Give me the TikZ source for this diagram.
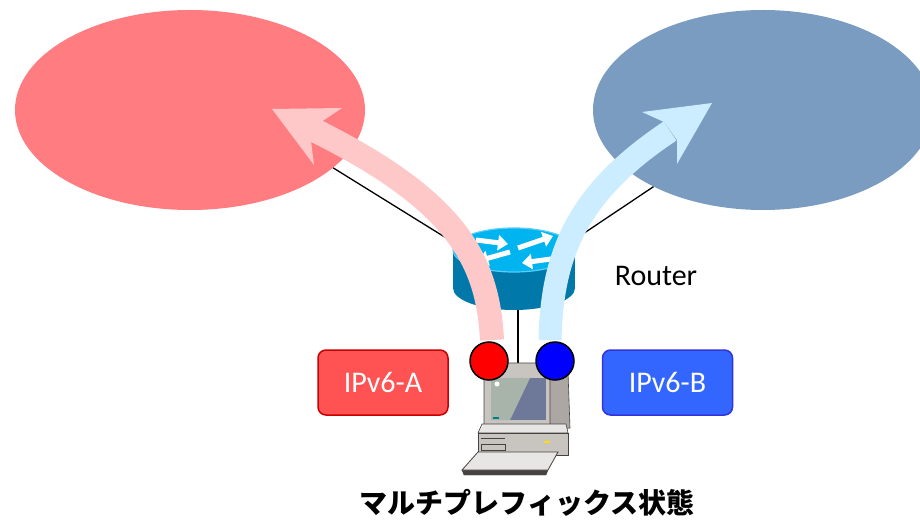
\documentclass[tikz,border=0pt]{standalone}
\usepackage{fontspec}
\usetikzlibrary{shapes.geometric,arrows.meta}
\newfontfamily\carlito{Carlito}
\newfontfamily\cjk{Noto Sans CJK JP}

\definecolor{netred}{RGB}{255,124,128}
\definecolor{netblue}{RGB}{122,156,192}
\definecolor{flowred}{RGB}{255,200,200}
\definecolor{flowblue}{RGB}{204,236,255}
\definecolor{routertop}{RGB}{0,180,240}
\definecolor{routerrim}{RGB}{90,205,248}
\definecolor{routerside}{RGB}{0,121,170}
\definecolor{tagred}{RGB}{255,82,82}
\definecolor{tagredline}{RGB}{200,0,0}
\definecolor{tagblue}{RGB}{51,102,255}
\definecolor{tagblueline}{RGB}{51,51,220}
\definecolor{pcbody}{RGB}{200,196,192}
\definecolor{pcdark}{RGB}{172,167,163}
\definecolor{pcedge}{RGB}{70,66,64}
\definecolor{pclight}{RGB}{232,230,228}
\definecolor{screen}{RGB}{110,120,152}
\definecolor{screenlight}{RGB}{168,180,170}

\begin{document}
\begin{tikzpicture}[x=1pt,y=-1pt,
  net/.style={ellipse,inner sep=0pt,draw=none},
  link/.style={draw=black,line width=1.3pt},
  port/.style={circle,minimum size=38pt,inner sep=0pt,draw=black,line width=1.5pt},
  tag/.style={rounded corners=8pt,minimum width=130pt,minimum height=65pt,inner sep=0pt,
              line width=1.5pt,text=white,font=\carlito\fontsize{30}{36}\selectfont},
  rarrow/.style={white,line width=5pt,-{Triangle[width=15pt,length=10pt]}}]
\useasboundingbox (0,0) rectangle (920,521);
\clip (0,0) rectangle (920,521);
\fill[white] (0,0) rectangle (920,521);

% the two networks
\node[net,fill=netred,minimum width=350pt,minimum height=200pt] (rednet) at (190,110) {};
\node[net,fill=netblue,minimum width=340pt,minimum height=200pt] (bluenet) at (763,110) {};

% links into the router
\coordinate (router) at (514,280);
\draw[link] (rednet.-22) -- (router);
\draw[link] (bluenet.215) -- (router);

% router body
\fill[routerside] (453,250) rectangle (575,288);
\fill[routerside] (514,288) ellipse [x radius=61, y radius=22];
\node[ellipse,fill=routertop,draw=routerrim,line width=1.2pt,minimum width=122pt,minimum height=44pt,inner sep=0pt] (routertop) at (514,250) {};
\draw[rarrow] (476,240) -- (508,244);
\draw[rarrow] (518,248) -- (553,236);
\draw[rarrow] (510,252) -- (478,261);
\draw[rarrow] (558,258) -- (522,263);

% link from router to host
\coordinate (routerbase) at (518,310);
\coordinate (pctop) at (518,364);
\draw[link] (routerbase) -- (pctop);

% traffic flows
\coordinate (flowa) at (492,340);
\coordinate (flowb) at (550,340);
\draw[flowred,line width=24pt] (flowa) .. controls (488,260) and (456,201) .. (316,131);
\fill[flowred] (272,109) -- (342,108) -- (321,122) -- (311,141) -- (314,165) -- cycle;
\draw[flowblue,line width=23pt] (flowb) .. controls (552,250) and (580,191) .. (670,131);
\fill[flowblue] (712,103) -- (642,112) -- (664,122) -- (677,140) -- (677,164) -- cycle;

% host computer
\filldraw[fill=pcdark,draw=pcedge,line width=0.6pt] (545,366) -- (568,372) -- (570,428) -- (545,431) -- cycle;
\filldraw[fill=pcbody,draw=pcedge,line width=0.8pt,rounded corners=3pt] (484,363) rectangle (550,431);
\fill[screen] (491,378) rectangle (546,420);
\fill[screenlight] (491,378) -- (530,378) -- (510,420) -- (491,420) -- cycle;
\fill[white] (497,384) circle (2.5);
\fill[teal] (493,417) rectangle (499,419);
\filldraw[fill=pclight,draw=pcedge,line width=0.6pt] (508,427) rectangle (544,433);
\filldraw[fill=pclight,draw=pcedge,line width=0.6pt] (482,424) -- (566,424) -- (568,433) -- (478,433) -- cycle;
\filldraw[fill=pcbody,draw=pcedge,line width=0.8pt] (478,433) rectangle (568,455);
\draw[pcedge,line width=1pt] (481,438) -- (505,438);
\draw[pcedge,line width=0.6pt] (481,444) rectangle (505,450);
\fill[yellow!80!orange] (544,441) rectangle (550,443);
\filldraw[fill=pcedge,draw=pcedge] (462,470) -- (548,470) -- (546,475) -- (464,475) -- cycle;
\filldraw[fill=pclight,draw=pcedge,line width=0.8pt] (478,452) -- (558,452) -- (548,470) -- (462,470) -- cycle;

% host addresses
\node[port,fill=red] (porta) at (489,361) {};
\node[port,fill=blue] (portb) at (555,361) {};

% labels
\node[tag,fill=tagred,draw=tagredline] (taga) at (383,382.5) {IPv6-A};
\node[tag,fill=tagblue,draw=tagblueline] (tagb) at (667.5,382.5) {IPv6-B};
\node[font=\carlito\fontsize{30}{36}\selectfont] (routerlabel) at (656,276) {Router};
\node[font=\cjk\bfseries\fontsize{28}{34}\selectfont] (title) at (527,503) {マルチプレフィックス状態};
\end{tikzpicture}
\end{document}
